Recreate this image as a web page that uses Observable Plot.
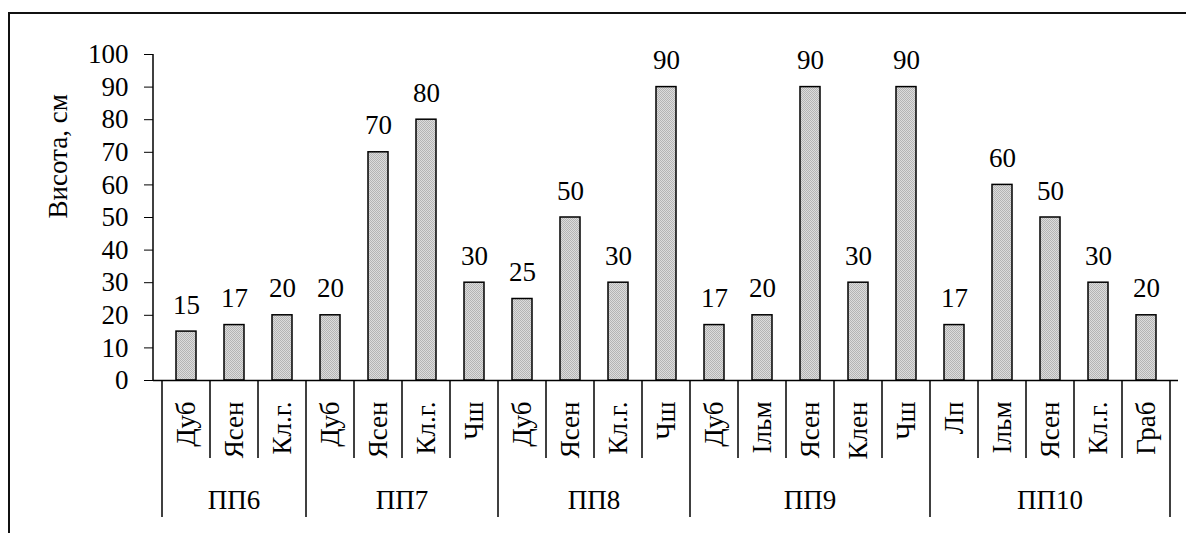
<!DOCTYPE html>
<html>
<head>
<meta charset="utf-8">
<script src="https://cdn.jsdelivr.net/npm/d3@7"></script>
<script src="https://cdn.jsdelivr.net/npm/@observablehq/plot@0.6"></script>
<style>
  html, body { margin: 0; padding: 0; background: #fff; overflow: hidden; }
  #wrap { position: relative; width: 1186px; height: 533px; }
  #frame { position: absolute; left: 8px; top: 12px; width: 1200px; height: 600px;
           border-left: 2px solid #111; border-top: 2px solid #111; pointer-events: none; }
</style>
</head>
<body>
<svg width="0" height="0" style="position:absolute">
  <defs>
    <pattern id="dots" width="2" height="2" patternUnits="userSpaceOnUse">
      <rect width="2" height="2" fill="#dcdcdc"></rect>
      <rect width="1" height="1" fill="#b4b4b4"></rect>
      <rect x="1" y="1" width="1" height="1" fill="#b4b4b4"></rect>
    </pattern>
  </defs>
</svg>
<div id="wrap"><div id="chart"></div><div id="frame"></div></div>
<script>
const groups = ["ПП6", "ПП7", "ПП8", "ПП9", "ПП10"];
const species = [
  ["Дуб", "Ясен", "Кл.г."],
  ["Дуб", "Ясен", "Кл.г.", "Чш"],
  ["Дуб", "Ясен", "Кл.г.", "Чш"],
  ["Дуб", "Ільм", "Ясен", "Клен", "Чш"],
  ["Лп", "Ільм", "Ясен", "Кл.г.", "Граб"]
];
const heights = [
  [15, 17, 20],
  [20, 70, 80, 30],
  [25, 50, 30, 90],
  [17, 20, 90, 30, 90],
  [17, 60, 50, 30, 20]
];
const yTicks = [0, 10, 20, 30, 40, 50, 60, 70, 80, 90, 100];
const yLabel = "Висота, см";

const rows = [];
groups.forEach((g, gi) => {
  species[gi].forEach((s, si) => {
    rows.push({key: g + "|" + si, group: g, species: s, value: heights[gi][si], first: si === 0});
  });
});
const keys = rows.map(d => d.key);

const font = "'Liberation Serif', 'Times New Roman', serif";
const FS = 27;

const structure = (index, scales, values, dims) => {
  const x = scales.x, y = scales.y;
  const bw = x.bandwidth ? x.bandwidth() : (x(keys[1]) - x(keys[0]));
  const y0 = y(0);
  const g = d3.create("svg:g").attr("stroke", "#000").attr("fill", "none");
  g.append("line").attr("x1", dims.marginLeft).attr("x2", dims.marginLeft)
    .attr("y1", y(100)).attr("y2", y0).attr("stroke-width", 1.5);
  rows.forEach(d => {
    const left = x(d.key);
    g.append("line").attr("x1", left).attr("x2", left).attr("y1", y0)
      .attr("y2", d.first ? y0 + 137 : y0 + 78).attr("stroke-width", 1.5);
    if (d.key === keys[keys.length - 1]) {
      g.append("line").attr("x1", left + bw).attr("x2", left + bw).attr("y1", y0)
        .attr("y2", y0 + 137).attr("stroke-width", 1.5);
    }
  });
  groups.forEach((grp) => {
    const ks = rows.filter(d => d.group === grp).map(d => d.key);
    const cx = (x(ks[0]) + x(ks[ks.length - 1]) + bw) / 2;
    g.append("text").attr("x", cx).attr("y", y0 + 120).attr("stroke", "none").attr("fill", "#000")
      .attr("text-anchor", "middle").attr("dy", "0.32em")
      .style("font-family", font).style("font-size", FS + "px").text(grp);
  });
  return g.node();
};

const chart = Plot.plot({
  width: 1186,
  height: 533,
  marginLeft: 153,
  marginRight: 8,
  marginTop: 54,
  marginBottom: 153,
  style: {fontFamily: font, fontSize: FS + "px", color: "#000", background: "transparent"},
  x: {domain: keys, padding: 0, axis: null},
  y: {domain: [0, 100], ticks: yTicks, tickSize: 9, tickPadding: 16, label: null, tickFormat: d => String(d)},
  marks: [
    Plot.barY(rows, {x: "key", y: "value", fill: "url(#dots)", stroke: "#000", strokeWidth: 1.5, insetLeft: 14, insetRight: 14}),
    Plot.ruleY([0], {stroke: "#000", strokeWidth: 1.5}),
    Plot.text(rows, {x: "key", y: "value", text: d => String(d.value), lineAnchor: "bottom", dy: -18, fill: "#000", fontSize: FS}),
    Plot.text(rows, {x: "key", y: () => 0, text: "species", rotate: -90, textAnchor: "end", lineAnchor: "middle", dy: 21, fill: "#000", fontSize: FS}),
    Plot.text([yLabel], {frameAnchor: "left", dx: -95, dy: 1, rotate: -90, text: d => d, lineAnchor: "middle", fill: "#000", fontSize: FS}),
    structure
  ]
});
document.getElementById("chart").appendChild(chart);
</script>
</body>
</html>
